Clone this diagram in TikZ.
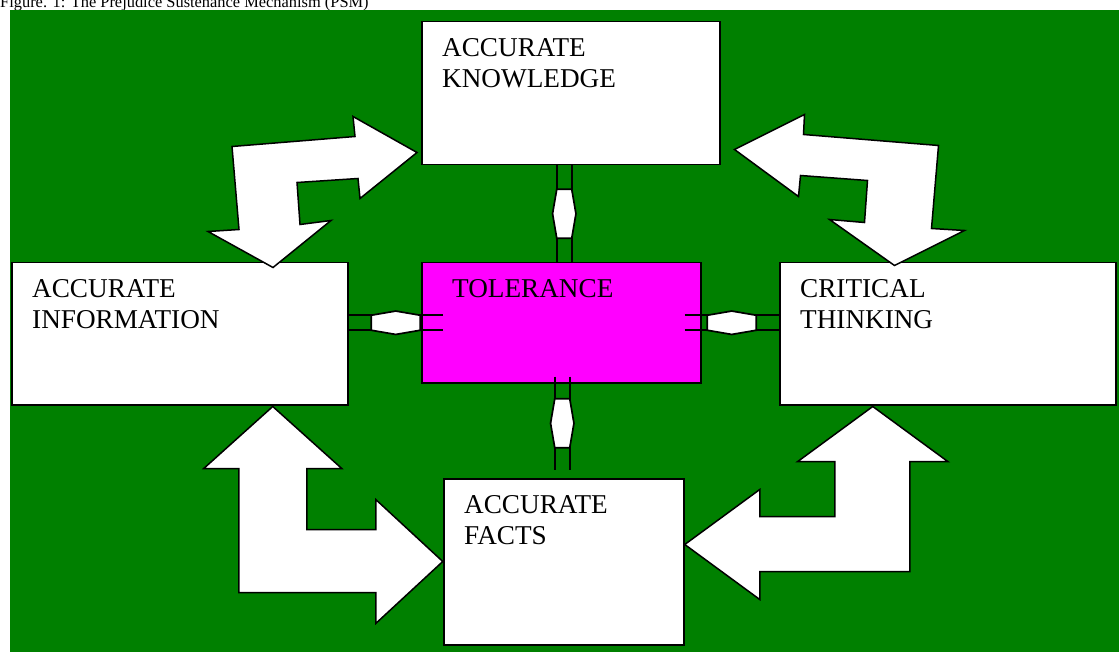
\documentclass[tikz,border=0pt]{standalone}
\usepackage{fontspec}
\setmainfont{Liberation Serif}
\usepackage{tikz}
\usetikzlibrary{calc}
\definecolor{bggreen}{RGB}{0,128,0}
\definecolor{tolpink}{RGB}{255,0,255}
\tikzset{box/.style={draw,line width=1.5pt,fill=white,inner sep=0pt,anchor=north west},
  lbl/.style={anchor=north west,inner sep=0pt,align=left,font=\fontsize{27.2}{31}\selectfont},
  bigarrow/.style={draw,fill=white,line width=1.5pt,line join=miter},
  linkline/.style={line width=1.7pt},
  linkhex/.style={draw,fill=white,line width=1.7pt}}
% small double link: #1 start, #2 end
\newcommand{\dlink}[2]{%
  \coordinate (lkA) at (#1);
  \coordinate (lkB) at (#2);
  \coordinate (lkM) at ($(lkA)!0.5!(lkB)$);
  \coordinate (lkP) at ($(lkM)!24.5pt!(lkA)$);
  \coordinate (lkQ) at ($(lkM)!24.5pt!(lkB)$);
  \draw[linkline] ($(lkA)!7.5pt!90:(lkB)$) -- ($(lkB)!7.5pt!-90:(lkA)$)
    ($(lkA)!7.5pt!-90:(lkB)$) -- ($(lkB)!7.5pt!90:(lkA)$);
  \draw[linkhex] ($(lkP)!7.5pt!90:(lkB)$) -- ($(lkM)!11.7pt!90:(lkB)$) -- ($(lkQ)!7.5pt!-90:(lkM)$)
    -- ($(lkQ)!7.5pt!90:(lkM)$) -- ($(lkM)!11.7pt!-90:(lkB)$) -- ($(lkP)!7.5pt!-90:(lkB)$) -- cycle;
}

\begin{document}
\begin{tikzpicture}[x=1pt,y=-1pt]
    \useasboundingbox (0,0) rectangle (1119,652);
    \clip (0,0) rectangle (1119,652);
    \node[anchor=base west,inner sep=0pt,font=\fontsize{16.4}{19}\selectfont] (title) at (0,7.7) {Figure. 1: The Prejudice Sustenance Mechanism (PSM)};
    \fill[bggreen] (10,10) rectangle (1119,652);

    \node[box,minimum width=298pt,minimum height=143pt] (know) at (421,21) {};
    \node[box,minimum width=336pt,minimum height=142pt] (info) at (11,262) {};
    \node[box,fill=tolpink,minimum width=279pt,minimum height=120pt] (tol) at (421,262) {};
    \node[box,minimum width=336pt,minimum height=142pt] (crit) at (779,262) {};
    \node[box,minimum width=240pt,minimum height=166pt] (facts) at (443,478) {};

    % links round the centre
    \coordinate (tk) at ($(tol.north)+(3,0)$);
    \dlink{tk |- know.south}{tk}
    \dlink{info.east |- tol.west}{$(tol.west)+(22,0)$}
    \dlink{$(tol.east)+(-17,0)$}{crit.west |- tol.east}
    \coordinate (tb) at ($(tol.south)+(1,0)$);
    \dlink{$(tb)+(0,-7)$}{$(tb |- facts.north)+(0,-8)$}

    % big bent arrows
    \draw[bigarrow] ($(know.south west)+(-4,-13)$) -- ++(-57,46) -- ++(-2,-20) -- ++(-61,4) -- ++(3,42) -- ++(31,-4)
        -- ++(-58,47) -- ++(-65,-36) -- ++(31,-2) -- ++(-7,-83) -- ++(123,-10) -- ++(-2,-20) -- cycle;
    \draw[bigarrow] ($(know.south east)+(14,-16)$) -- ++(70,-35) -- ++(-1,20) -- ++(135,11) -- ++(-7,83) -- ++(33,2)
        -- ++(-70,35) -- ++(-65,-46) -- ++(35,3) -- ++(3,-42) -- ++(-67,-5) -- ++(-2,21) -- cycle;
    \draw[bigarrow] ($(info.south)+(93,1)$) -- ++(69,62) -- ++(-35,0) -- ++(0,61) -- ++(69,0) -- ++(0,-30)
        -- ++(67,62) -- ++(-67,62) -- ++(0,-31) -- ++(-137,0) -- ++(0,-124) -- ++(-35,0) -- cycle;
    \draw[bigarrow] ($(crit.south)+(-75,1)$) -- ++(75,55) -- ++(-38,0) -- ++(0,110) -- ++(-150,0) -- ++(0,28)
        -- ++(-75,-55) -- ++(75,-55) -- ++(0,27) -- ++(75,0) -- ++(0,-55) -- ++(-37,0) -- cycle;

    \node[lbl] (knowtxt) at ($(know.north west)+(21,17)$) {ACCURATE\\KNOWLEDGE};
    \node[lbl] (infotxt) at ($(info.north west)+(21,17)$) {ACCURATE\\INFORMATION};
    \node[lbl] (toltxt) at ($(tol.north west)+(31,17)$) {TOLERANCE};
    \node[lbl] (crittxt) at ($(crit.north west)+(21,17)$) {CRITICAL\\THINKING};
    \node[lbl] (factstxt) at ($(facts.north west)+(21,17)$) {ACCURATE\\FACTS};
\end{tikzpicture}
\end{document}
